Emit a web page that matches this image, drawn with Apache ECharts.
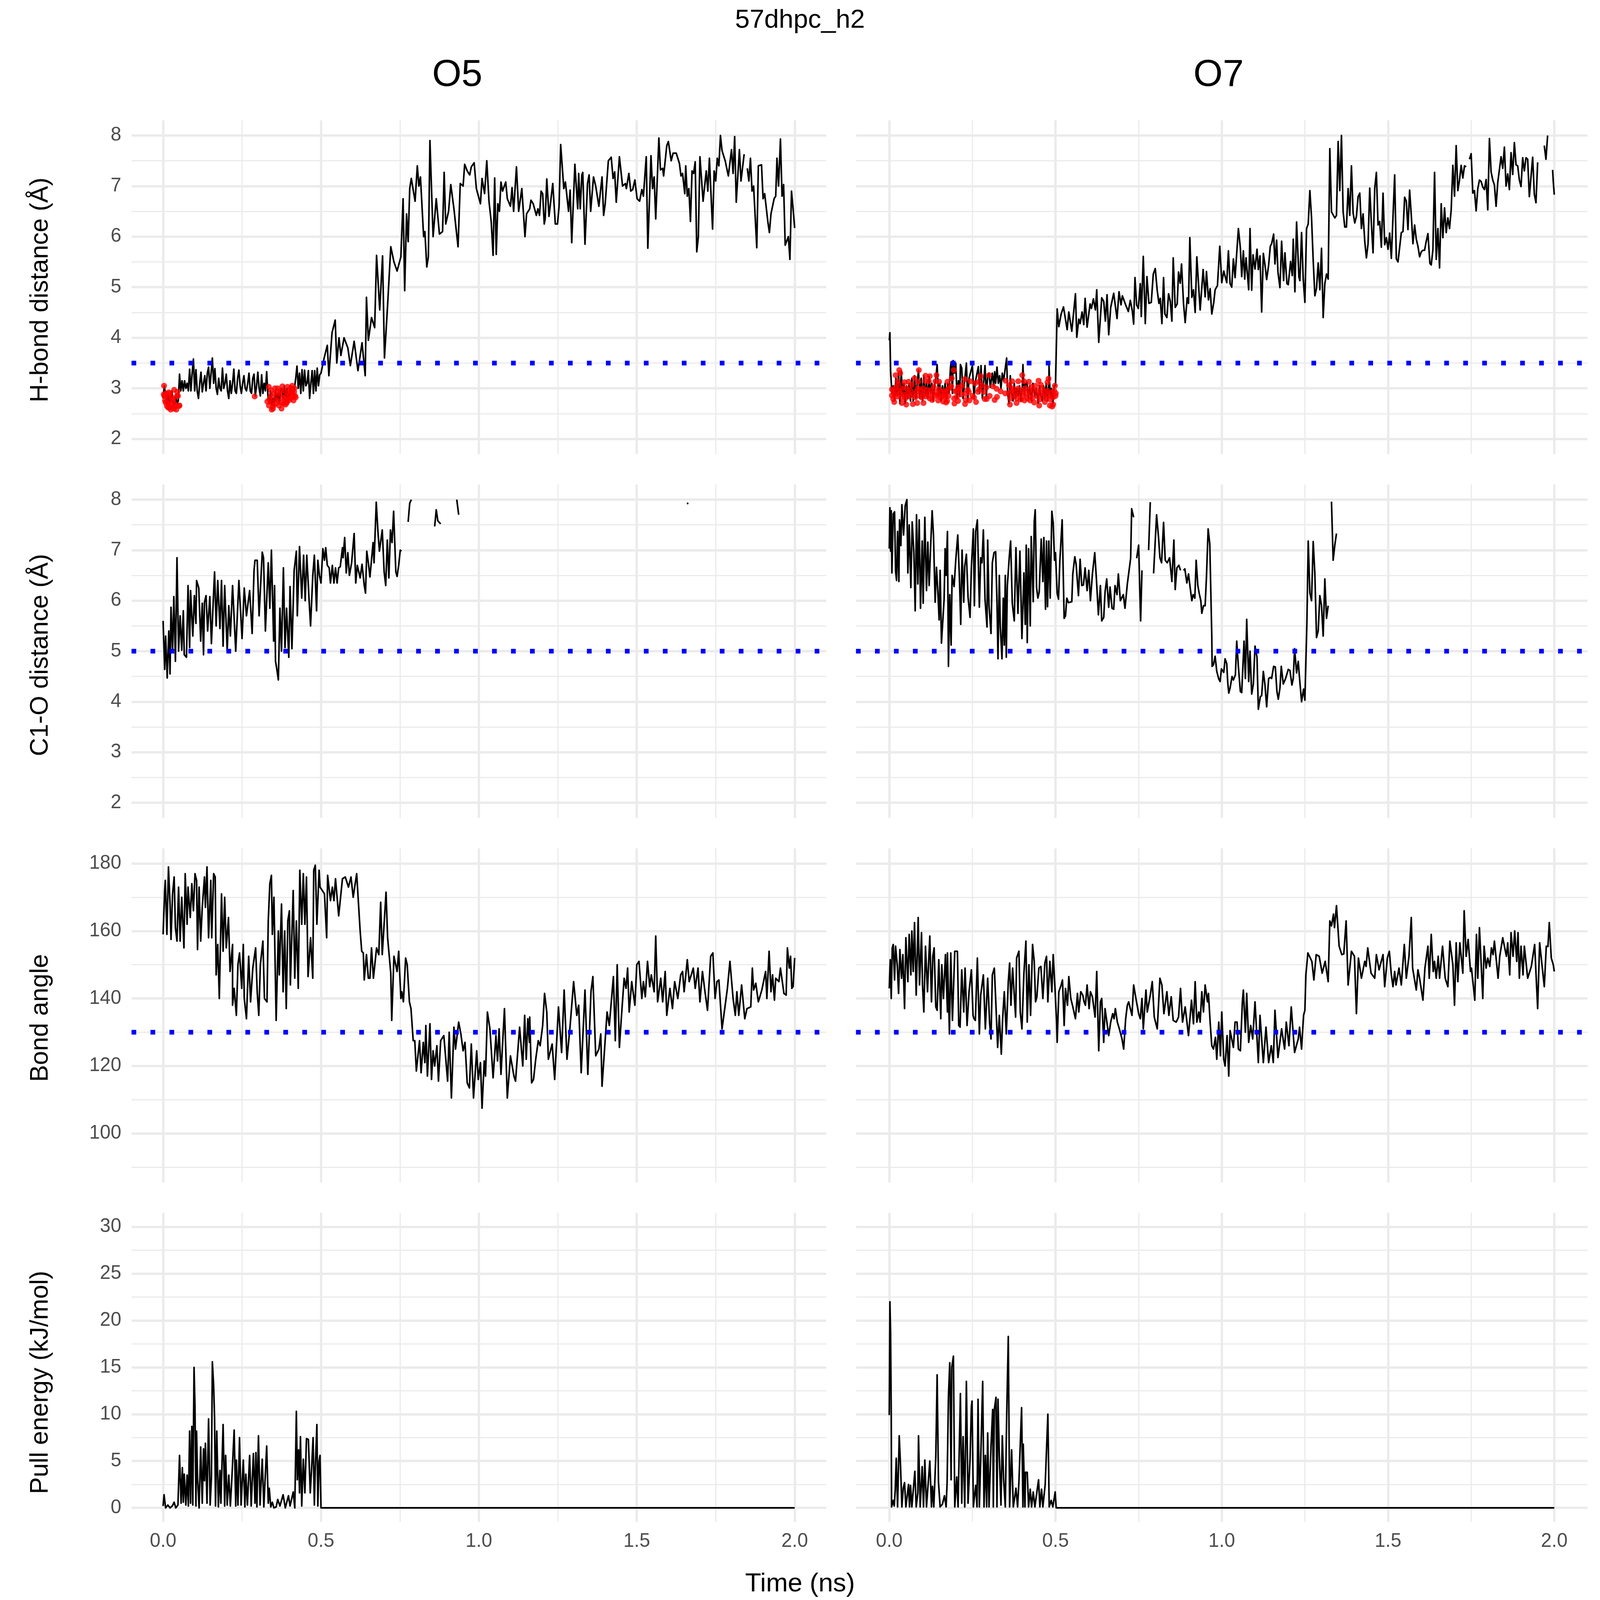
<!DOCTYPE html>
<html><head><meta charset="utf-8">
<style>html,body{margin:0;padding:0;background:#fff;overflow:hidden}#c{position:absolute;left:0;top:0}</style>
<script src="https://cdn.jsdelivr.net/npm/echarts@6/dist/echarts.min.js"></script>
</head><body><div id="c"></div>
<script>
const columnTitles=['O5','O7'];
const rowTitles=['H-bond distance (Å)','C1-O distance (Å)','Bond angle','Pull energy (kJ/mol)'];
const timeMajor=[0,0.5,1,1.5,2];
const timeMinor=[0.25,0.75,1.25,1.75];
const distMajor=[2,3,4,5,6,7,8];
const distMinor=[2.5,3.5,4.5,5.5,6.5,7.5];
const angleMajor=[100,120,140,160,180];
const angleMinor=[90,110,130,150,170];
const energyMajor=[0,5,10,15,20,25,30];
const energyMinor=[2.5,7.5,12.5,17.5,22.5,27.5];
const thresholds=[3.5,5,130,null];

const hbondO5=[[0,2.8],[.004,3.05],[.008,2.85],[.012,2.7],[.016,2.9],[.02,2.65],[.024,2.8],[.028,2.95],[.032,2.7],[.036,2.65],[.04,2.85],[.044,2.7],[.048,2.75],[.052,3.28],[.056,2.95],[.06,3.15],[.064,2.95],[.068,3.15],[.072,3],[.076,3.1],[.08,2.95],[.084,3.38],[.088,2.95],[.092,3.3],[.096,3.58],[.1,2.95],[.104,3.37],[.108,2.95],[.112,2.8],[.116,3.1],[.12,3.32],[.124,2.93],[.128,3.1],[.132,3.25],[.136,2.95],[.14,3.3],[.144,3.42],[.148,3],[.152,3.3],[.156,3.6],[.16,3.1],[.164,3.39],[.168,3],[.172,2.88],[.176,3.2],[.18,3],[.184,2.95],[.188,3.4],[.192,3],[.196,3.1],[.2,3.28],[.204,2.95],[.208,2.8],[.212,3.15],[.216,2.9],[.22,3.1],[.224,3.38],[.228,2.95],[.232,2.9],[.236,3.2],[.24,3.36],[.244,3.05],[.248,2.9],[.252,3.1],[.256,3.25],[.26,3],[.264,2.95],[.268,3.1],[.272,3.3],[.276,2.95],[.28,2.9],[.284,3.2],[.288,3.28],[.292,2.85],[.296,3.05],[.3,3.32],[.304,3],[.308,2.85],[.312,3.27],[.316,2.9],[.32,3.1],[.324,2.95],[.328,3.33],[.332,2.85],[.336,2.7],[.34,2.95],[.344,2.6],[.348,2.8],[.352,2.65],[.356,2.95],[.36,2.75],[.364,2.9],[.368,2.7],[.372,2.95],[.376,3],[.38,2.8],[.384,3.05],[.388,2.75],[.392,3],[.396,2.7],[.4,2.9],[.404,3.05],[.408,2.95],[.412,2.8],[.416,3],[.42,3.2],[.424,3.44],[.428,3],[.432,3.3],[.436,2.9],[.44,3.37],[.444,2.95],[.448,3.36],[.452,3.05],[.456,3.1],[.46,3.35],[.464,2.8],[.468,3.1],[.472,3.35],[.476,2.9],[.48,3.35],[.484,2.95],[.488,3.4],[.492,3.05],[.496,3.27],[.5,3.3],[.51,3.6],[.52,3.85],[.525,3.25],[.535,4.1],[.545,4.35],[.55,3.5],[.557,4],[.563,3.65],[.573,4],[.585,3.8],[.593,3.45],[.605,3.93],[.617,3.35],[.63,3.9],[.64,3.25],[.644,4.8],[.65,3.95],[.66,4.4],[.67,4.2],[.676,5.63],[.686,4.55],[.695,5.62],[.701,3.6],[.711,4.65],[.721,5.8],[.731,5.5],[.741,5.32],[.753,5.6],[.76,6.75],[.765,4.93],[.771,6.45],[.776,5.9],[.781,6.95],[.786,7.15],[.798,6.7],[.805,7.4],[.81,7],[.815,7.18],[.825,6],[.829,6.1],[.835,5.4],[.84,5.6],[.845,7.9],[.855,6],[.865,6.75],[.875,6.05],[.885,6.1],[.89,7.27],[.895,6.25],[.904,6.5],[.911,7.03],[.921,6.55],[.934,5.8],[.941,7.05],[.95,7],[.955,7.43],[.963,7.3],[.971,7.22],[.976,7.38],[.985,7.46],[.992,6.95],[1.005,6.65],[1.01,7.15],[1.018,6.85],[1.025,7.5],[1.032,6.7],[1.039,6.3],[1.045,5.63],[1.05,7.16],[1.055,5.65],[1.06,6.65],[1.065,6.5],[1.07,7.08],[1.075,6.9],[1.085,7.08],[1.09,6.75],[1.1,6.6],[1.105,6.97],[1.11,6.5],[1.119,7.38],[1.126,6.5],[1.136,6.95],[1.146,6],[1.151,6.45],[1.161,6.55],[1.165,6.72],[1.172,6.65],[1.182,6.42],[1.187,6.55],[1.192,6.42],[1.197,6.9],[1.202,6.85],[1.207,6.25],[1.21,6.35],[1.215,7.14],[1.222,6.4],[1.234,7.05],[1.242,6.25],[1.249,6.25],[1.254,6.6],[1.259,7.82],[1.269,6.95],[1.274,7.08],[1.284,6.5],[1.289,6.92],[1.294,5.88],[1.304,7.43],[1.313,6.55],[1.316,7.25],[1.321,6.55],[1.326,7.22],[1.329,7.27],[1.336,5.85],[1.344,7.05],[1.349,7.22],[1.354,6.5],[1.363,7.18],[1.37,7],[1.38,6.6],[1.39,7.18],[1.395,6.42],[1.4,6.65],[1.41,7.5],[1.419,7.57],[1.425,7.15],[1.43,7.28],[1.435,6.68],[1.445,7.58],[1.455,7],[1.464,7.05],[1.467,6.95],[1.475,7.25],[1.481,6.9],[1.487,6.93],[1.494,7.12],[1.501,6.75],[1.509,6.7],[1.516,6.93],[1.521,6.8],[1.53,7.58],[1.535,5.77],[1.545,7.6],[1.55,6.95],[1.555,7.18],[1.56,6.35],[1.57,7.95],[1.575,7.32],[1.582,7.35],[1.585,7.2],[1.595,7.8],[1.6,7.88],[1.609,7.5],[1.615,7.65],[1.625,7.65],[1.635,7.45],[1.64,7.2],[1.645,7.25],[1.652,6.85],[1.655,7.4],[1.66,6.8],[1.665,6.95],[1.67,6.3],[1.675,7.3],[1.68,7.25],[1.685,7.48],[1.69,5.7],[1.695,6],[1.7,7.58],[1.71,6.7],[1.72,7.3],[1.725,6.9],[1.73,7.55],[1.74,6.15],[1.745,7.3],[1.75,7.1],[1.755,7.55],[1.76,7.4],[1.765,8],[1.77,7.7],[1.78,7.5],[1.79,7.2],[1.8,7.72],[1.805,7.25],[1.81,7.98],[1.815,6.68],[1.825,7.72],[1.83,7.1],[1.84,7.63],[null,null],[1.85,7.35],[1.855,7.1],[1.86,7.55],[1.865,6.9],[1.87,7],[1.88,5.78],[1.885,7.4],[1.895,7.42],[1.9,6.75],[1.905,6.85],[1.915,6.3],[1.92,6.08],[1.925,6.45],[1.935,6.75],[1.94,6.8],[1.944,7.55],[1.949,7],[1.955,7.93],[1.96,6.8],[1.965,7.03],[1.97,5.83],[1.98,6],[1.985,5.55],[1.99,6.9],[1.995,6.55],[2,6.17]];

const hbondO7=[[0,3.95],[.002,4.1],[.004,3.35],[.008,2.9],[.012,3.05],[.016,2.75],[.02,3.2],[.024,2.85],[.028,3.3],[.032,2.7],[.036,3.35],[.04,2.85],[.044,3.1],[.048,2.7],[.052,3.05],[.056,2.8],[.06,3.1],[.064,2.75],[.068,3.2],[.072,2.75],[.076,3.25],[.08,2.8],[.084,3.1],[.088,3.36],[.092,2.8],[.096,3.2],[.1,2.75],[.104,3.25],[.108,2.85],[.112,3.1],[.116,2.8],[.12,3.24],[.124,2.9],[.128,3.1],[.132,2.75],[.136,3.05],[.14,3.2],[.144,3.47],[.148,2.85],[.152,3.1],[.156,2.75],[.16,3.05],[.164,2.85],[.168,3.1],[.172,2.75],[.176,3.1],[.18,2.9],[.184,3.4],[.186,3.52],[.19,2.9],[.192,3.55],[.196,3.3],[.2,3.5],[.204,2.8],[.208,3.15],[.212,2.85],[.214,3.47],[.218,3.4],[.222,2.8],[.226,3.1],[.232,3.5],[.236,2.75],[.24,3.2],[.25,3.45],[.255,2.8],[.258,3.1],[.268,3.43],[.272,2.9],[.276,3.45],[.28,2.8],[.288,3.45],[.292,2.85],[.296,3.25],[.3,3.3],[.304,3.02],[.31,3.3],[.314,3.05],[.317,3.33],[.32,3.1],[.324,3.42],[.328,3.1],[.332,3.25],[.336,3],[.34,3.3],[.344,3.15],[.348,3.35],[.353,3.6],[.356,2.9],[.36,2.7],[.364,3.25],[.368,2.9],[.372,2.75],[.376,3.1],[.38,2.8],[.384,3],[.388,2.85],[.392,3.05],[.396,2.75],[.4,3],[.402,3.47],[.406,2.85],[.41,3.1],[.414,3.12],[.418,2.8],[.422,3.05],[.428,2.75],[.432,3.1],[.438,2.85],[.442,3],[.448,2.7],[.452,3.05],[.456,2.85],[.46,2.75],[.464,3.05],[.468,2.8],[.472,3.1],[.476,2.75],[.48,3.1],[.4805,3.45],[.484,2.85],[.488,3],[.492,2.7],[.496,3.05],[.5,3.05],[.505,4.57],[.51,4.22],[.517,4.47],[.524,4.61],[.535,4.16],[.54,4.51],[.549,4.13],[.56,4.87],[.564,4.01],[.57,4.37],[.574,4.28],[.58,4.51],[.585,4.26],[.589,4.78],[.595,4.21],[.604,4.67],[.608,4.58],[.614,4.77],[.62,4.55],[.624,4.95],[.63,3.91],[.639,4.79],[.645,4.72],[.65,4.33],[.655,4.85],[.66,4.06],[.666,4.6],[.675,4.88],[.685,4.38],[.691,4.91],[.697,4.65],[.701,4.83],[.711,4.65],[.719,4.52],[.725,4.74],[.731,4.53],[.735,4.27],[.739,5.19],[.744,4.65],[.749,4.58],[.755,5.07],[.758,4.42],[.764,5.61],[.77,4.28],[.775,5.21],[.781,4.68],[.788,4.7],[.794,5.26],[.8,5.37],[.806,4.93],[.811,4.68],[.815,4.78],[.82,4.28],[.825,5.19],[.829,4.47],[.835,4.4],[.84,4.87],[.845,4.73],[.85,4.33],[.854,5.58],[.86,4.6],[.866,4.67],[.87,5.3],[.875,5.08],[.879,5.46],[.885,4.68],[.89,4.3],[.896,4.79],[.9,4.68],[.904,5.98],[.91,4.8],[.915,4.95],[.92,4.5],[.925,5.6],[.935,4.55],[.944,5.35],[.95,4.81],[.954,5.31],[.96,4.75],[.965,4.97],[.97,4.47],[.976,4.7],[.98,4.95],[.987,5.03],[.994,5.81],[1,5.09],[1.006,5.32],[1.015,5.09],[1.02,5.72],[1.025,5.07],[1.03,5],[1.035,5.56],[1.04,5.19],[1.046,5.77],[1.05,6.16],[1.056,5.77],[1.06,5.21],[1.065,5.72],[1.069,5.16],[1.073,5.58],[1.081,4.95],[1.085,6.16],[1.09,4.94],[1.094,5.64],[1.1,5.36],[1.106,5.75],[1.11,5.35],[1.115,5.62],[1.12,4.51],[1.125,5.67],[1.13,5.44],[1.135,5.15],[1.141,5.44],[1.146,5.81],[1.15,5.86],[1.156,6.05],[1.16,5.46],[1.165,5.93],[1.169,5.3],[1.175,4.99],[1.18,5.91],[1.186,5.13],[1.19,5.68],[1.196,5.07],[1.2,5.05],[1.207,5.51],[1.212,5.23],[1.215,5.95],[1.22,4.91],[1.225,6.29],[1.232,5.2],[1.235,5.13],[1.24,6.08],[1.245,5.16],[1.25,4.7],[1.255,6.16],[1.26,6.25],[1.265,6.91],[1.27,6.37],[1.275,5.53],[1.28,4.83],[1.285,4.98],[1.29,5.48],[1.295,4.95],[1.3,5.77],[1.305,4.4],[1.31,5.07],[1.315,5.26],[1.32,5.16],[1.325,7.74],[1.33,6.49],[1.34,6.37],[1.345,6.42],[1.35,7.88],[1.355,6.91],[1.36,8],[1.365,6.49],[1.37,6.19],[1.375,6.19],[1.38,6.95],[1.385,6.42],[1.39,7.4],[1.395,6.47],[1.4,6.27],[1.405,6.4],[1.41,6.79],[1.415,6.86],[1.42,6.16],[1.425,6.45],[1.43,5.91],[1.435,5.58],[1.44,5.86],[1.445,6.96],[1.45,6.25],[1.455,5.68],[1.46,6.95],[1.465,7.27],[1.47,6.23],[1.475,6.3],[1.48,5.79],[1.485,6.86],[1.49,5.84],[1.495,5.98],[1.5,5.75],[1.505,6.07],[1.51,5.57],[1.52,7.22],[1.525,5.56],[1.53,5.5],[1.535,5.79],[1.54,6.08],[1.545,6.1],[1.55,6.78],[1.555,6.7],[1.56,6.14],[1.565,6.92],[1.57,6.42],[1.575,5.86],[1.58,6.23],[1.585,5.95],[1.59,5.81],[1.595,5.6],[1.6,5.7],[1.605,5.73],[1.61,5.73],[1.615,5.91],[1.62,6.06],[1.626,5.47],[1.63,5.44],[1.635,5.74],[1.64,7.27],[1.645,5.55],[1.65,6.16],[1.655,5.38],[1.66,6.65],[1.665,5.98],[1.67,6.57],[1.675,6.08],[1.68,6.37],[1.685,6.16],[1.69,6.53],[1.695,7.41],[1.7,6.8],[1.705,7.8],[1.71,6.91],[1.715,7.12],[1.72,7.41],[1.725,7.16],[1.73,7.4],[1.735,7.38],[null,null],[1.745,7.53],[1.75,7.64],[1.755,6.86],[1.76,6.91],[1.765,6.51],[1.77,6.95],[1.775,7.12],[1.78,7.09],[1.785,6.98],[1.79,6.93],[1.795,7.13],[1.8,6.53],[1.805,7.94],[1.81,7.28],[1.815,7.12],[1.82,7.02],[1.825,6.6],[1.83,7.07],[1.84,7.58],[1.845,7.35],[1.85,7.77],[1.855,7],[1.86,7.24],[1.865,6.93],[1.87,7.66],[1.875,7.23],[1.88,7.86],[1.885,7.42],[1.89,7.4],[1.895,7.12],[1.9,6.99],[1.905,7.56],[1.91,7.3],[1.915,7.56],[1.92,7.53],[1.925,6.79],[1.935,7.57],[1.94,6.84],[1.945,6.67],[1.95,7.47],[null,null],[1.97,7.8],[1.975,7.53],[1.98,8],[null,null],[1.995,7.32],[1.997,7.09],[2,6.83]];

const carbonO5=[[0,5.6],[.005,4.64],[.008,5.3],[.013,4.47],[.018,5.4],[.022,4.55],[.025,5.87],[.03,5],[.034,6.08],[.039,4.8],[.044,6.85],[.049,5],[.054,5.7],[.059,5.02],[.064,5.8],[.067,4.93],[.074,4.88],[.079,6.3],[.084,5.07],[.087,6.2],[.094,5.3],[.099,6.1],[.104,5.55],[.106,6.4],[.113,6.25],[.119,5.2],[.124,5.95],[.128,4.93],[.131,5.97],[.136,6.1],[.141,5.4],[.148,6.08],[.153,5.15],[.161,6.3],[.163,6.57],[.168,5.5],[.173,6.4],[.18,5.45],[.185,6.4],[.19,5.1],[.195,6.3],[.203,5],[.208,5.9],[.213,5.3],[.22,6.3],[.23,5],[.24,6.4],[.25,5.25],[.257,6.25],[.264,5.7],[.274,6.2],[.282,5.35],[.288,6.6],[.291,6.8],[.298,6.8],[.304,5.7],[.314,6.96],[.318,6.85],[.324,5.4],[.333,6.75],[.338,5.85],[.343,7],[.35,5.2],[.353,6.3],[.356,4.8],[.36,4.65],[.365,4.43],[.37,5.85],[.375,5],[.381,6.65],[.386,5.07],[.391,5.85],[.398,4.88],[.402,6.28],[.408,5.05],[.415,6.6],[.422,6.98],[.425,5.7],[.432,7.07],[.439,6.05],[.445,6.9],[.45,6],[.455,6.9],[.462,6.05],[.467,5.5],[.474,6.5],[.479,6.9],[.486,5.8],[.49,6.8],[.495,6.5],[.5,6.35],[.506,7.03],[.511,6.8],[.515,7.05],[.52,6.7],[.526,6.65],[.53,6.35],[.536,6.7],[.541,6.35],[.546,6.65],[.551,6.35],[.556,6.65],[.561,6.67],[.568,7.05],[.57,6.85],[.575,7.25],[.58,6.55],[.585,6.95],[.59,6.5],[.597,6.75],[.605,7.33],[.61,6.35],[.615,6.7],[.624,6.45],[.63,6.72],[.637,6.3],[.641,6.15],[.645,6.98],[.65,6.75],[.655,6.47],[.665,7.15],[.668,6.75],[.675,7.95],[.68,7.4],[.685,6.98],[.694,7.4],[.7,6.57],[.705,6.3],[.71,7.2],[.715,6.45],[.72,7.4],[.725,7.15],[.73,7.77],[.737,6.57],[.741,6.48],[.746,6.7],[.751,7],[.755,6.98],[null,null],[.776,7.56],[.781,7.93],[.786,8],[null,null],[.86,7.47],[.865,7.8],[.87,7.58],[.879,7.52],[null,null],[.93,8],[.936,7.7],[null,null],[1.66,7.94],[1.662,7.91]];

const carbonO7=[[0,7.03],[.002,7.84],[.004,6.98],[.006,7.78],[.008,6.55],[.012,7.72],[.016,7.76],[.019,6.58],[.022,6.4],[.025,7.37],[.029,6.38],[.031,7.6],[.035,7.09],[.038,7.9],[.043,7.3],[.048,7.88],[.053,8],[.056,6.55],[.06,7.5],[.065,6.26],[.069,7.56],[.074,6.96],[.078,5.8],[.082,7.7],[.086,6.33],[.09,7.6],[.094,5.85],[.099,7.18],[.102,5.95],[.107,7.65],[.112,6.2],[.116,7.16],[.12,6.3],[.125,7.16],[.129,7.78],[.133,7.3],[.138,5.97],[.142,6.66],[.146,6.2],[.15,5.62],[.153,6.6],[.157,5.16],[.165,6.03],[.168,7.03],[.171,6.5],[.175,7.37],[.178,4.7],[.182,6.12],[.186,5.12],[.189,6.5],[.195,6.28],[.2,6.8],[.206,7.3],[.211,6.46],[.215,5.53],[.219,7],[.224,5.97],[.227,6.68],[.232,6.92],[.237,6.07],[.243,5.67],[.247,6.66],[.253,7.42],[.256,5.9],[.26,7.37],[.265,7.6],[.271,5.87],[.275,6.85],[.279,6.75],[.283,7.4],[.288,6.03],[.294,5.48],[.296,7.2],[.3,5.9],[.306,5.35],[.31,6.75],[.315,6.95],[.32,6.97],[.324,5.97],[.327,4.85],[.331,6.5],[.334,5.48],[.339,4.85],[.343,6.05],[.346,5.12],[.349,6.5],[.352,4.88],[.355,6.28],[.361,6.87],[.365,7.18],[.37,5.95],[.376,5.6],[.381,7.05],[.387,5.75],[.393,6.98],[.399,5.25],[.405,6.55],[.409,5.53],[.412,7.1],[.415,5.17],[.419,7.03],[.424,5.5],[.427,7.27],[.433,5.98],[.436,7.56],[.439,7.8],[.443,6.26],[.447,6.05],[.451,6.17],[.457,7.22],[.462,6.38],[.465,7.25],[.47,5.83],[.473,7.18],[.476,5.88],[.48,7.18],[.484,6.05],[.489,7.77],[.493,7.54],[.497,6.8],[.5,6.95],[.505,6.14],[.509,6.03],[.513,6.78],[.52,7.6],[.526,5.65],[.53,5.7],[.534,6.05],[.539,5.96],[.549,5.98],[.552,6.53],[.558,6.87],[.562,6.72],[.569,6.1],[.574,6.82],[.579,6.3],[.584,6.31],[.589,6.65],[.595,6.2],[.6,6.6],[.605,6],[.611,6.53],[.618,6.95],[.623,6.43],[.629,5.72],[.635,6.3],[.639,5.6],[.645,5.67],[.649,6.17],[.654,6.43],[.66,5.87],[.664,6.27],[.67,5.85],[.675,5.83],[.679,6.3],[.685,6.12],[.689,6.53],[.695,6],[.704,6.12],[.707,5.95],[.709,5.85],[.716,6.33],[.726,6.84],[.729,7.82],[.735,7.65],[null,null],[.744,6.84],[.75,7.1],[.756,5.6],[.76,6.6],[null,null],[.78,7],[.785,7.95],[null,null],[.795,6.54],[.804,7.7],[.81,7.24],[.814,6.85],[.819,6.75],[.825,7.55],[.83,6.8],[.836,6.75],[.843,6.85],[.85,6.38],[.856,7.2],[.86,6.22],[.865,6.65],[.871,6.7],[.876,6.6],[null,null],[.885,6.6],[.889,6.63],[.895,6.35],[.9,6.53],[.904,6.31],[.91,6],[.914,6.12],[.919,6.05],[.923,6.8],[.928,6.3],[.932,6.15],[.937,6],[.94,5.75],[.945,5.9],[.95,5.9],[.954,6.47],[.959,7.42],[.964,7.12],[.97,5.3],[.971,4.7],[.975,4.73],[.98,4.9],[.985,4.6],[.991,4.45],[.995,4.4],[.999,4.65],[1.006,4.58],[1.01,4.85],[1.015,4.75],[1.018,4.38],[1.021,4.17],[1.025,4.27],[1.031,4.5],[1.035,4.43],[1.041,4.53],[1.045,5.2],[1.05,4.69],[1.056,4.2],[1.06,4.18],[1.067,5.2],[1.071,4.46],[1.075,5.63],[1.081,4.4],[1.085,5],[1.09,4.15],[1.095,4.35],[1.1,5.1],[1.106,4.88],[1.11,3.85],[1.116,4.1],[1.12,4.12],[1.125,4.6],[1.13,4.33],[1.135,3.9],[1.141,4.46],[1.146,4.48],[1.15,4.46],[1.156,4.7],[1.161,4.69],[1.166,4.2],[1.17,4.05],[1.175,4.27],[1.179,4.7],[1.185,4.35],[1.192,4.46],[1.2,4.64],[1.205,4.62],[1.211,4.33],[1.215,4.46],[1.219,5.05],[1.225,4.57],[1.23,4.8],[1.234,4.46],[1.24,4],[1.246,4.25],[1.25,4.03],[1.256,5.55],[1.26,7.18],[1.265,6.15],[1.27,6],[1.275,7.17],[1.28,6.53],[1.285,5.27],[1.29,5.4],[1.295,6.1],[1.3,5.9],[1.305,5.3],[1.31,6.43],[1.315,5.65],[1.32,5.9],[null,null],[1.33,7.96],[1.335,6.8],[1.34,7.1],[1.345,7.33]];

const angleO5=[[0,159],[.005,172],[.007,175],[.012,159],[.017,179],[.022,168],[.025,157.5],[.03,171],[.035,176],[.039,161],[.044,157],[.049,173],[.054,157],[.059,170],[.066,155],[.07,177],[.076,162],[.079,173],[.086,164],[.091,174],[.096,166],[.101,177],[.106,175],[.109,154.5],[.114,173],[.119,157],[.124,167],[.131,176],[.134,167],[.139,179],[.144,158],[.151,175],[.154,158],[.16,177],[.165,176],[.168,147],[.173,156],[.178,140],[.185,171],[.19,154],[.195,170],[.2,155],[.207,164],[.212,148],[.22,156],[.22,138],[.225,143],[.232,135],[.237,150],[.242,153.5],[.249,143],[.254,156],[.257,140],[.264,134],[.271,152.5],[.277,139],[.284,149],[.293,155],[.298,142],[.303,135],[.308,150],[.316,157],[.321,140],[.329,139],[.333,163],[.338,174],[.343,176.5],[.346,159],[.351,170],[.358,133.5],[.365,160],[.368,147],[.375,168],[.38,142],[.385,160],[.39,137],[.395,163],[.4,166],[.403,144],[.412,172],[.417,146],[.422,163],[.428,143],[.433,178],[.439,162],[.444,177],[.449,162],[.454,176],[.459,146.5],[.467,158],[.474,146],[.477,178],[.482,179.5],[.487,162],[.494,178],[.497,173],[.504,172],[.511,171],[.518,158],[.521,176.5],[.53,169],[.536,173],[.541,169],[.546,175.5],[.556,164.5],[.568,175.5],[.577,176],[.587,173],[.595,176],[.602,170],[.613,177],[.624,160],[.629,154],[.634,153.5],[.637,145.5],[.644,153],[.65,146],[.655,146],[.66,155],[.666,146],[.676,155],[.683,153],[.689,168.5],[.694,153],[.706,171.5],[.711,158],[.721,147.5],[.724,133.5],[.731,152.5],[.741,148],[.746,154],[.753,140],[.756,142],[.761,139],[.768,152],[.773,150],[.78,139],[.785,137],[.792,127.5],[.797,127.5],[.802,118.5],[.812,127.5],[.817,118],[.824,127],[.829,121],[.832,132],[.837,117],[.845,132.5],[.85,116],[.855,124.5],[.86,120],[.867,126],[.872,115.5],[.879,127.5],[.889,129],[.901,115.5],[.906,130],[.913,110.5],[.921,131.5],[.926,125],[.936,133],[.943,129.5],[.95,124.5],[.956,127],[.963,115],[.97,113.5],[.976,126.5],[.983,110.5],[.993,124.5],[.998,116],[1.005,121],[1.01,107.5],[1.017,121.5],[1.021,117],[1.027,136],[1.035,131],[1.045,116.5],[1.054,129],[1.059,121.5],[1.064,131],[1.07,117.5],[1.081,137],[1.09,110.5],[1.1,123],[1.111,117],[1.116,115.5],[1.129,131.5],[1.139,120],[1.145,135],[1.15,122],[1.155,134],[1.16,127],[1.161,134.5],[1.167,115],[1.173,116],[1.18,122],[1.188,127.5],[1.194,126],[1.202,132],[1.208,141.5],[1.215,136],[1.22,122],[1.232,126.5],[1.24,116],[1.252,137.5],[1.262,124],[1.27,142.5],[1.279,122],[1.289,132],[1.3,145],[1.31,135],[1.316,138],[1.324,118],[1.336,142.5],[1.345,117.5],[1.355,142],[1.361,146.5],[1.37,123],[1.38,125],[1.386,129.5],[1.39,114],[1.398,125],[1.406,136],[1.413,132],[1.426,146.5],[1.432,127.5],[1.438,150],[1.445,125.5],[1.451,134],[1.46,146],[1.466,143],[1.471,149],[1.476,136],[1.484,145],[1.494,138],[1.5,150],[1.507,151],[1.516,140],[1.521,145],[1.527,140.5],[1.534,151],[1.541,143.5],[1.546,147],[1.555,142],[1.56,158.5],[1.566,139],[1.576,146],[1.582,139],[1.59,148],[1.595,135],[1.605,143],[1.613,137],[1.62,145],[1.63,140],[1.639,147],[1.645,148],[1.65,142],[1.66,151.5],[1.666,145],[1.679,149],[1.685,143],[1.694,149],[1.7,139],[1.708,148],[1.716,142],[1.724,136.5],[1.734,152.5],[1.741,153.5],[1.748,140],[1.754,145],[1.76,145.5],[1.77,131],[1.78,138],[1.787,143],[1.795,151],[1.805,140],[1.812,135],[1.817,142],[1.823,135],[1.832,144],[1.842,134],[1.849,137],[1.861,137.5],[1.866,149],[1.87,142.5],[1.877,144.5],[1.885,139],[1.896,142.5],[1.908,148],[1.912,140],[1.919,154],[1.925,142],[1.93,147],[1.936,139.5],[1.94,146],[1.95,145],[1.955,149],[1.966,141.5],[1.973,141],[1.977,155],[1.983,149],[1.987,152.5],[1.991,143],[1.995,143.5],[2,152]];

const angleO7=[[0,143],[.003,151.5],[.006,140],[.009,155],[.012,156],[.016,145.5],[.019,155.5],[.024,150],[.028,141.5],[.032,154.5],[.037,146],[.041,153],[.046,137],[.05,158],[.056,145],[.06,159],[.065,147],[.068,160],[.072,148],[.076,162.5],[.081,141],[.087,164],[.091,144],[.097,159.5],[.1,144],[.104,136],[.109,155.5],[.115,142],[.119,152],[.122,158.5],[.127,139],[.131,152.5],[.135,155],[.14,137.5],[.144,136.5],[.149,151.5],[.155,134],[.158,150],[.163,140],[.169,153],[.175,136],[.175,153.5],[.181,129.5],[.185,153.5],[.19,133.5],[.197,154],[.205,154],[.209,132],[.213,131.5],[.218,148.5],[.224,136],[.228,149],[.234,132],[.24,142],[.247,148.5],[.252,135],[.255,134],[.259,133.5],[.265,152],[.271,129.5],[.275,141],[.283,147],[.289,131],[.296,146],[.302,132.5],[.306,128],[.31,147],[.316,149],[.32,140],[.326,125.5],[.331,135],[.337,123.5],[.341,134],[.346,142],[.352,129.5],[.358,145],[.362,150.5],[.366,138],[.371,149],[.38,134.5],[.383,152],[.39,154],[.394,136],[.399,131],[.405,147.5],[.411,157],[.415,133],[.42,150],[.425,135],[.431,156],[.436,151],[.44,139],[.444,140.5],[.45,149],[.456,149.5],[.462,140],[.468,150.5],[.473,152.5],[.477,139],[.483,151],[.489,142],[.493,153],[.499,142],[.503,133.5],[.505,127],[.51,142],[.517,144],[.521,145.5],[.526,132],[.53,143],[.536,138],[.54,146.5],[.546,140],[.551,138],[.56,134],[.566,141.5],[.57,136],[.576,142],[.582,141],[.586,139],[.59,138],[.595,144],[.601,137],[.605,142],[.611,140.5],[.619,134.5],[.624,148],[.63,124.5],[.635,139],[.639,140],[.645,127],[.649,137],[.66,129],[.666,133],[.672,135.5],[.676,134],[.68,137],[.686,133],[.692,131],[.7,128],[.705,125],[.711,134],[.716,138],[.72,139],[.73,135],[.735,144],[.741,140.5],[.75,135.5],[.755,134],[.76,140],[.764,131],[.772,142.5],[.776,136],[.785,141],[.791,145],[.797,134.5],[.806,131],[.814,146],[.82,144],[.826,135.5],[.835,142],[.841,135],[.848,140.5],[.854,133.5],[.863,133],[.87,134.5],[.876,143],[.882,133],[.89,137.5],[.9,129],[.909,139.5],[.915,132.5],[.92,145],[.925,133],[.931,136],[.935,133],[.94,142],[.945,136],[.95,144],[.957,139],[.96,141.5],[.965,133],[.97,126],[.975,125],[.981,128.5],[.985,122],[.991,133],[.996,123],[1,136],[1.006,122],[1.01,120],[1.016,129],[1.021,117],[1.025,130.5],[1.035,125.5],[1.04,133],[1.046,133],[1.05,125],[1.056,124.5],[1.062,139],[1.065,142.5],[1.071,130],[1.075,141.5],[1.081,127],[1.087,132],[1.093,128],[1.1,139],[1.11,121],[1.115,135],[1.125,121],[1.133,131.5],[1.141,121],[1.149,126],[1.155,121],[1.16,136.5],[1.169,122.5],[1.18,131],[1.189,125],[1.194,133],[1.202,126],[1.209,137.5],[1.219,124],[1.23,128],[1.234,131.5],[1.24,125],[1.246,135],[1.25,136.5],[1.253,147],[1.259,153.5],[1.271,151],[1.277,145.5],[1.284,153],[1.293,152.5],[1.302,147.5],[1.311,151],[1.32,145],[1.325,163],[1.33,161.5],[1.336,165],[1.339,161],[1.345,167.5],[1.353,155.5],[1.361,153],[1.367,153.2],[1.374,163],[1.38,144],[1.39,154],[1.399,152.5],[1.405,135.5],[1.411,152],[1.42,146],[1.43,151],[1.434,149.5],[1.439,155],[1.449,147.5],[1.46,146],[1.465,153],[1.473,148.5],[1.485,153],[1.49,143.5],[1.498,152],[1.504,154],[1.51,147],[1.515,143.5],[1.52,148],[1.524,144],[1.533,149],[1.54,144],[1.549,156],[1.555,146],[1.563,152.5],[1.57,164],[1.574,149],[1.585,142.5],[1.59,148.5],[1.595,146],[1.605,139.5],[1.611,149],[1.62,155.5],[1.624,146],[1.63,159],[1.636,148],[1.64,151],[1.645,146],[1.651,152.5],[1.655,146],[1.664,155.5],[1.672,146],[1.68,143.5],[1.686,157],[1.695,150],[1.7,138],[1.705,156.5],[1.71,145],[1.716,156.5],[1.725,147.5],[1.729,166],[1.735,152.5],[1.741,157.5],[1.748,148],[1.751,149],[1.761,139.5],[1.766,159],[1.77,146],[1.775,161],[1.785,140],[1.789,155.5],[1.795,149],[1.8,152],[1.806,149.5],[1.811,155],[1.816,153],[1.82,157],[1.831,146],[1.836,152.5],[1.845,158],[1.856,152.5],[1.86,156.5],[1.866,147],[1.87,159.5],[1.876,152.5],[1.881,160],[1.887,151],[1.891,159.5],[1.895,146],[1.9,155.5],[1.906,147],[1.91,155.5],[1.92,146],[1.931,149.5],[1.941,156],[1.95,137],[1.956,156.5],[1.963,150],[1.97,143.5],[1.976,155.5],[1.981,155.4],[1.985,162.5],[1.991,152],[1.997,150],[2,148]];

const energyO5=[[0,.2],[.003,1.4],[.008,0],[.015,.3],[.022,0],[.029,.2],[.035,.6],[.04,0],[.047,.3],[.052,5.6],[.057,.5],[.061,4.3],[.064,.6],[.067,3.6],[.072,.3],[.076,3.5],[.08,.2],[.084,8.2],[.087,.5],[.091,8.7],[.094,.3],[.098,15],[.101,10.8],[.104,.2],[.106,8.2],[.109,3.2],[.114,0],[.119,6.5],[.124,.5],[.128,6.3],[.131,2.9],[.134,6.9],[.139,.5],[.144,9.5],[.149,.3],[.153,3.2],[.156,15.6],[.16,13.1],[.163,9.6],[.166,.2],[.17,8.2],[.175,.1],[.18,4],[.183,.5],[.19,8.9],[.195,.2],[.198,5.6],[.203,.3],[.208,3.5],[.213,.2],[.218,3.3],[.225,8.3],[.23,.2],[.232,5.1],[.237,.3],[.242,7.5],[.247,.3],[.254,5.1],[.259,.1],[.262,3.6],[.267,.3],[.274,5.6],[.279,.2],[.286,5.8],[.291,.5],[.294,5.9],[.297,.1],[.302,7.7],[.307,.3],[.314,5.2],[.319,.1],[.328,6.6],[.333,.5],[.336,2.1],[.341,.1],[.346,.6],[.351,0],[.358,.1],[.363,.9],[.37,.2],[.38,1.4],[.387,0],[.397,1.3],[.402,.2],[.412,1.7],[.417,0],[.422,10.3],[.425,3],[.429,6.2],[.432,1.6],[.435,7.6],[.439,.2],[.444,5.2],[.449,1.6],[.454,7.4],[.46,7.3],[.466,1.6],[.47,4],[.475,7.5],[.479,.3],[.482,4.3],[.487,8.9],[.49,.2],[.494,5],[.497,5.6],[.5,0],[.503,0],[2,0]];

const energyO7=[[0,9.9],[.002,22],[.004,18.8],[.006,10],[.007,.1],[.012,.8],[.015,.2],[.018,1.9],[.021,5.3],[.025,.1],[.03,7.7],[.034,4.4],[.038,.1],[.042,2.1],[.046,2.7],[.05,.1],[.058,2.5],[.061,.1],[.064,2.4],[.068,.1],[.077,3.9],[.081,.1],[.086,1.6],[.088,7.7],[.093,.1],[.099,4.4],[.103,.1],[.107,5.1],[.112,.1],[.116,2.1],[.122,5],[.127,.1],[.13,2.3],[.134,.1],[.14,5.5],[.144,14.2],[.148,2.8],[.153,.1],[.16,.4],[.166,1.3],[.171,.1],[.174,2.7],[.178,11.9],[.182,15.5],[.186,3],[.188,15],[.193,16.2],[.197,.1],[.203,3.3],[.207,.1],[.214,12.2],[.218,.5],[.222,7.6],[.227,.1],[.232,13.5],[.237,.5],[.243,5.2],[.247,10.8],[.249,11.4],[.253,.1],[.26,2.4],[.264,.1],[.267,11.6],[.271,.1],[.275,5.1],[.281,13.5],[.285,.1],[.289,5.6],[.293,.1],[.296,8],[.3,.1],[.306,6.5],[.311,10.5],[.313,.1],[.316,10.5],[.321,11.8],[.324,.1],[.327,11.6],[.331,5.6],[.336,.3],[.34,7.7],[.344,3],[.349,.1],[.353,9.5],[.358,18.3],[.362,.1],[.368,6.2],[.373,.1],[.378,1.3],[.381,2.1],[.386,.1],[.39,2.8],[.398,10.7],[.402,.1],[.403,6.8],[.408,.1],[.41,3.8],[.415,3.8],[.419,.1],[.424,2],[.428,.1],[.433,1.7],[.438,.1],[.444,1.7],[.449,3],[.453,.1],[.458,2],[.462,.1],[.469,2.5],[.477,10],[.481,.1],[.487,.8],[.492,.1],[.499,1.7],[.502,0],[2,0]];

const redO5=[[.003,3.05],[.002,2.88],[.004,2.85],[.006,2.76],[.008,2.72],[.01,2.9],[.012,2.65],[.014,2.85],[.015,2.7],[.016,2.62],[.018,2.92],[.02,2.75],[.02,2.62],[.022,2.9],[.024,2.58],[.026,2.68],[.028,2.82],[.03,2.63],[.032,2.78],[.034,2.6],[.036,2.7],[.035,2.97],[.04,2.65],[.042,2.58],[.044,2.85],[.045,2.93],[.047,2.85],[.05,2.65],[.052,2.66],[.29,2.84],[.335,3.03],[.342,2.96],[.33,2.74],[.335,2.66],[.344,2.58],[.348,2.6],[.341,2.85],[.337,2.78],[.345,2.72],[.35,2.66],[.352,2.9],[.354,3],[.356,2.8],[.358,2.7],[.36,2.92],[.363,3],[.365,2.76],[.367,2.66],[.369,2.88],[.372,2.95],[.375,2.6],[.376,2.72],[.378,3.04],[.38,2.82],[.382,2.7],[.384,2.95],[.386,2.78],[.388,2.68],[.39,2.85],[.392,2.72],[.394,3.03],[.396,2.8],[.398,2.9],[.4,2.77],[.402,2.95],[.404,3],[.406,2.82],[.408,2.92],[.409,3.05],[.411,2.85],[.413,2.76],[.415,2.93],[.416,3],[.418,2.85],[.42,2.82]];

const redO7=[[.03,3.36],[.033,3.3],[.019,3.26],[.025,3.14],[.027,3.08],[.008,2.98],[.008,2.86],[.012,2.79],[.015,2.73],[.038,2.71],[.051,2.68],[.071,2.69],[.084,2.71],[.103,2.71],[.089,3.36],[.076,3.2],[.087,3.13],[.109,3.25],[.122,3.24],[.142,3.26],[.046,3.12],[.058,3.13],[.068,3.07],[.139,3.14],[.15,3.13],[.119,3.14],[.109,3.15],[.129,2.77],[.147,2.76],[.162,2.74],[.171,2.72],[.174,2.75],[.175,3.13],[.186,3.04],[.188,3.2],[.194,3.36],[.195,2.8],[.196,2.7],[.207,2.75],[.228,2.69],[.23,2.77],[.241,2.76],[.261,2.73],[.255,2.82],[.227,3.18],[.244,3.14],[.258,3.1],[.27,3.13],[.279,3.06],[.275,3.24],[.3,3.26],[.292,3.02],[.312,3.04],[.323,2.99],[.335,2.94],[.349,2.9],[.317,2.77],[.324,2.83],[.302,2.85],[.287,2.79],[.293,2.79],[.285,2.93],[.267,2.93],[.27,2.98],[.239,2.93],[.207,3.02],[.199,2.94],[.22,3.06],[.229,2.89],[.203,2.83],[.35,3.15],[.36,3.06],[.37,3.14],[.363,2.68],[.383,2.71],[.4,3.26],[.388,3.14],[.405,3.14],[.42,3.13],[.449,3.15],[.456,3.07],[.479,3.19],[.476,3.12],[.498,3.05],[.501,2.9],[.451,2.66],[.436,2.72],[.407,2.76],[.424,2.76],[.468,2.73],[.483,2.66],[.49,2.64],[.493,2.68],[.012,2.95],[.016,2.88],[.02,3.02],[.024,2.84],[.028,2.96],[.032,2.9],[.036,2.82],[.04,3],[.044,2.88],[.048,2.8],[.052,3],[.056,2.9],[.06,2.84],[.064,2.96],[.072,2.88],[.078,2.82],[.082,2.94],[.086,3],[.09,2.86],[.094,2.95],[.098,2.82],[.102,3],[.106,2.9],[.11,2.84],[.114,2.97],[.118,2.86],[.122,2.8],[.126,2.96],[.13,2.9],[.134,3.03],[.138,2.85],[.142,2.93],[.146,2.87],[.15,2.98],[.154,2.82],[.158,2.91],[.162,2.85],[.166,2.95],[.17,2.83],[.174,2.93],[.178,2.85],[.18,3],[.202,2.95],[.212,2.98],[.216,2.88],[.236,2.97],[.25,2.85],[.36,2.9],[.364,2.8],[.368,2.95],[.372,3],[.376,2.85],[.38,2.92],[.384,2.8],[.388,3],[.392,2.88],[.396,2.78],[.4,2.95],[.404,2.85],[.408,3],[.412,2.9],[.416,2.8],[.42,2.97],[.424,2.88],[.428,3.03],[.432,2.82],[.436,2.95],[.44,3.05],[.444,2.85],[.448,2.95],[.452,2.78],[.456,2.9],[.46,3],[.464,2.84],[.468,2.92],[.472,2.8],[.476,2.95],[.48,2.86],[.484,2.78],[.488,2.92],[.492,2.82],[.496,2.95],[.5,2.85]];

const lineData=[[hbondO5,hbondO7],[carbonO5,carbonO7],[angleO5,angleO7],[energyO5,energyO7]];
const redData=[redO5,redO7];
const rowAxes=[
 {min:1.7,max:8.3,major:distMajor,minor:distMinor},
 {min:1.7,max:8.3,major:distMajor,minor:distMinor},
 {min:85.5,max:184.5,major:angleMajor,minor:angleMinor},
 {min:-1.5,max:31.5,major:energyMajor,minor:energyMinor}];
// the layout below is measured on a 5000-unit square and fitted to the window
const side=Math.min(window.innerWidth,window.innerHeight);
const S=side/5000;
const colBox=[{left:411,width:2171},{left:2675,width:2286}];
const rowBox=[{top:376,height:1043},{top:1514,height:1042},{top:2651,height:1044},{top:3790,height:966}];
const FONT='"Liberation Sans",Arial,sans-serif';
const GRID='#EBEBEB';
const box=document.getElementById('c');
box.style.width=side+'px';box.style.height=side+'px';

const grid=[],xAxis=[],yAxis=[],series=[];
rowAxes.forEach((ax,r)=>{colBox.forEach((cb,c)=>{
  const g=grid.length;
  grid.push({left:cb.left*S,width:cb.width*S,top:rowBox[r].top*S,height:rowBox[r].height*S,containLabel:false});
  const mk=(vals,width,labels,fmt,pad)=>({
    splitLine:{show:true,lineStyle:{color:GRID,width:width*S}},
    axisLine:{show:false},
    axisTick:{show:false,customValues:vals},
    axisLabel:{show:labels,customValues:vals,color:'#4D4D4D',fontFamily:FONT,fontSize:60*S,margin:(labels?32:0)*S,padding:pad||0,formatter:fmt}
  });
  const xi=xAxis.length;
  xAxis.push(Object.assign({type:'value',gridIndex:g,min:-0.1,max:2.1},mk(timeMajor,7.3,r===3,v=>v.toFixed(1))));
  xAxis.push(Object.assign({type:'value',gridIndex:g,min:-0.1,max:2.1},mk(timeMinor,3.7,false)));
  const yi=yAxis.length;
  yAxis.push(Object.assign({type:'value',gridIndex:g,min:ax.min,max:ax.max},mk(ax.major,7.3,c===0,v=>String(v),[10*S,0,0,0])));
  yAxis.push(Object.assign({type:'value',gridIndex:g,min:ax.min,max:ax.max},mk(ax.minor,3.7,false)));
  series.push({type:'line',xAxisIndex:xi,yAxisIndex:yi,data:lineData[r][c],showSymbol:false,connectNulls:false,
    lineStyle:{color:'#000',width:5*S,join:'round',cap:'butt'},z:3,silent:true});
  if(r===0){series.push({type:'scatter',xAxisIndex:xi,yAxisIndex:yi,data:redData[c],symbol:'circle',symbolSize:18.5*S,
    itemStyle:{color:'#FF0000'},z:4,silent:true});}
  if(thresholds[r]!==null){series.push({type:'line',xAxisIndex:xi,yAxisIndex:yi,data:[[-0.1,thresholds[r]],[2.1,thresholds[r]]],showSymbol:false,
    lineStyle:{color:'#0000FF',width:14.7*S,type:[14.7*S,44.6*S],cap:'butt'},z:5,silent:true});}
});});

const txt=(s,x,y,size,rot)=>({type:'text',x:x*S,y:y*S,rotation:rot||0,z:10,style:{text:s,font:(size*S)+'px '+FONT,fill:'#000',textAlign:'center',textVerticalAlign:'middle'}});
const graphic=[
  txt('57dhpc_h2',2500,64,82),
  txt(columnTitles[0],1429,236,118),
  txt(columnTitles[1],3808,236,118),
  txt('Time (ns)',2500,4950,82),
  txt(rowTitles[0],127,906,79,Math.PI/2),
  txt(rowTitles[1],127,2047,79,Math.PI/2),
  txt(rowTitles[2],127,3181,79,Math.PI/2),
  txt(rowTitles[3],127,4320,79,Math.PI/2)
];
const chart=echarts.init(box,null,{renderer:'canvas',width:side,height:side});
chart.setOption({animation:false,backgroundColor:'#fff',grid,xAxis,yAxis,series,graphic});
</script></body></html>
